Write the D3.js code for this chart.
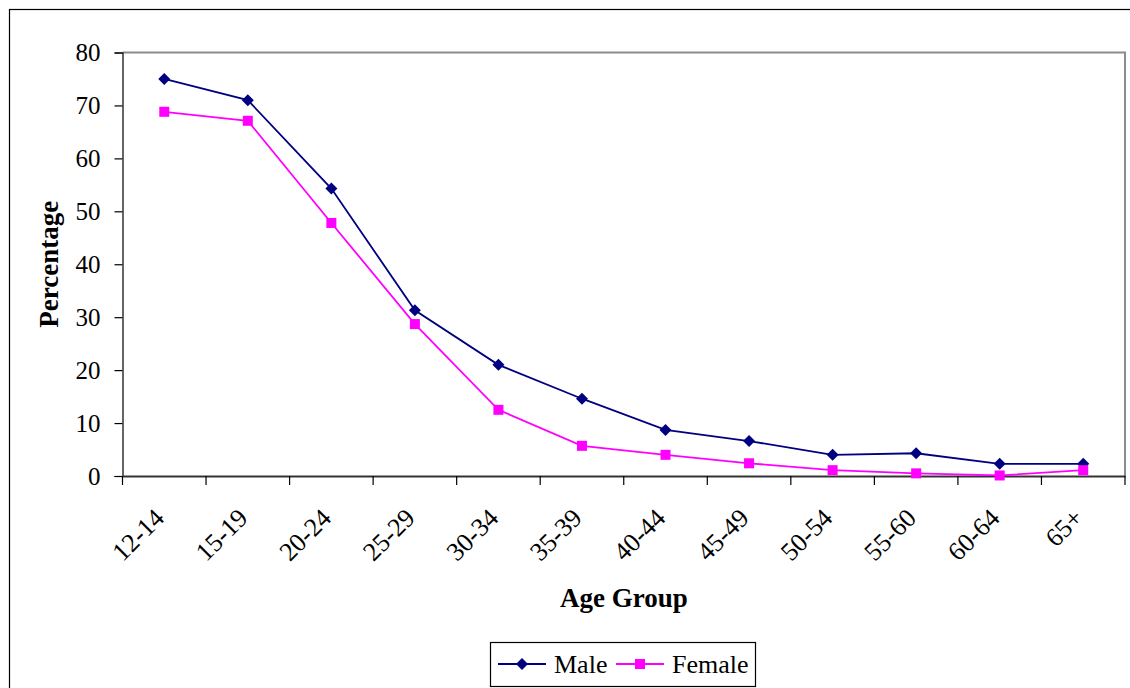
<!DOCTYPE html>
<html><head><meta charset="utf-8">
<script src="https://cdn.jsdelivr.net/npm/d3@7"></script>
<style>body{margin:0;background:#fff}svg{display:block}text{font-family:"Liberation Serif","Times New Roman",serif}</style>
</head><body><svg id="c" width="1130" height="688"></svg>
<script>
const categories = ["12-14","15-19","20-24","25-29","30-34","35-39","40-44","45-49","50-54","55-60","60-64","65+"];
const maleValues = [75.0,71.0,54.3,31.3,21.0,14.6,8.7,6.6,4.0,4.3,2.3,2.3];
const femaleValues = [68.8,67.1,47.8,28.7,12.5,5.7,4.0,2.4,1.1,0.5,0.1,1.1];
const yTicks = [0,10,20,30,40,50,60,70,80];
const seriesNames = ["Male","Female"];
const seriesColors = ["#000080","#FF00FF"];

const svg = d3.select("#c");
const L=122.5, R=1125, T=52.5, B=476;
// outer frame
svg.append("rect").attr("x",9.5).attr("y",9.5).attr("width",1140).attr("height",700)
  .attr("fill","none").attr("stroke","#000").attr("stroke-width",1.2);

const x = d3.scaleBand().domain(categories).range([L,R]).padding(0);
const y = d3.scaleLinear().domain([0,80]).range([B,T]);

// plot area border (gray)
svg.append("path").attr("d",`M${L},${T}H${R}V${B}`).attr("fill","none").attr("stroke","#8c8c8c").attr("stroke-width",2);

const yAxis = svg.append("g").attr("transform",`translate(${L},0)`)
  .call(d3.axisLeft(y).tickValues(yTicks).tickSize(8).tickPadding(14).tickFormat(d3.format("d")));
yAxis.attr("font-family",null);
yAxis.select(".domain").attr("stroke","#000").attr("stroke-width",1.2);
yAxis.selectAll(".tick line").attr("stroke","#000").attr("stroke-width",1.2);
yAxis.selectAll("text").attr("font-size",25).attr("fill","#000");

const xAxis = svg.append("g").attr("transform",`translate(0,${B})`)
  .call(d3.axisBottom(x).tickSize(0).tickFormat(""));
xAxis.select(".domain").attr("stroke","#333").attr("stroke-width",2);
// tick marks at band boundaries
const bounds = categories.map(c=>x(c)).concat([R]);
svg.append("g").selectAll("line").data(bounds).join("line")
  .attr("x1",d=>d).attr("x2",d=>d).attr("y1",B).attr("y2",B+9).attr("stroke","#000").attr("stroke-width",1.2);
// rotated labels
svg.append("g").selectAll("text").data(categories).join("text")
  .attr("transform",d=>`translate(${x(d)+x.bandwidth()/2-5},${B+37}) rotate(-45)`)
  .attr("text-anchor","end").attr("dy","0.35em").attr("font-size",26).attr("fill","#000").text(d=>d);

// axis titles
svg.append("text").attr("transform",`translate(58,${(T+B)/2}) rotate(-90)`).attr("text-anchor","middle")
  .attr("font-size",27).attr("font-weight","bold").text("Percentage");
svg.append("text").attr("x",624).attr("y",607).attr("text-anchor","middle")
  .attr("font-size",27).attr("font-weight","bold").text("Age Group");

const cx = d=>x(d)+x.bandwidth()/2;
const line = d3.line().x((v,i)=>cx(categories[i])).y(v=>y(v));
function drawMarker(g, kind, color, px, py){
  if(kind==="diamond"){
    g.append("path").attr("d",`M${px},${py-6}L${px+6},${py}L${px},${py+6}L${px-6},${py}Z`).attr("fill",color);
  } else {
    g.append("rect").attr("x",px-5).attr("y",py-5).attr("width",10).attr("height",10).attr("fill",color);
  }
}
const data = [maleValues,femaleValues];
const kinds = ["diamond","square"];
data.forEach((vals,si)=>{
  svg.append("path").attr("d",line(vals)).attr("fill","none").attr("stroke",seriesColors[si]).attr("stroke-width",1.8);
  const g = svg.append("g");
  vals.forEach((v,i)=>drawMarker(g,kinds[si],seriesColors[si],cx(categories[i]),y(v)));
});

// legend
const lg = svg.append("g");
lg.append("rect").attr("x",490.5).attr("y",642.5).attr("width",265).attr("height",44).attr("fill","#fff").attr("stroke","#000").attr("stroke-width",1.2);
const items = [{x0:498,tx:554},{x0:616,tx:672}];
items.forEach((it,i)=>{
  lg.append("line").attr("x1",it.x0).attr("x2",it.x0+48).attr("y1",664).attr("y2",664).attr("stroke",seriesColors[i]).attr("stroke-width",1.8);
  drawMarker(lg,kinds[i],seriesColors[i],it.x0+24,664);
  lg.append("text").attr("x",it.tx).attr("y",673).attr("font-size",26).text(seriesNames[i]);
});
</script></body></html>
